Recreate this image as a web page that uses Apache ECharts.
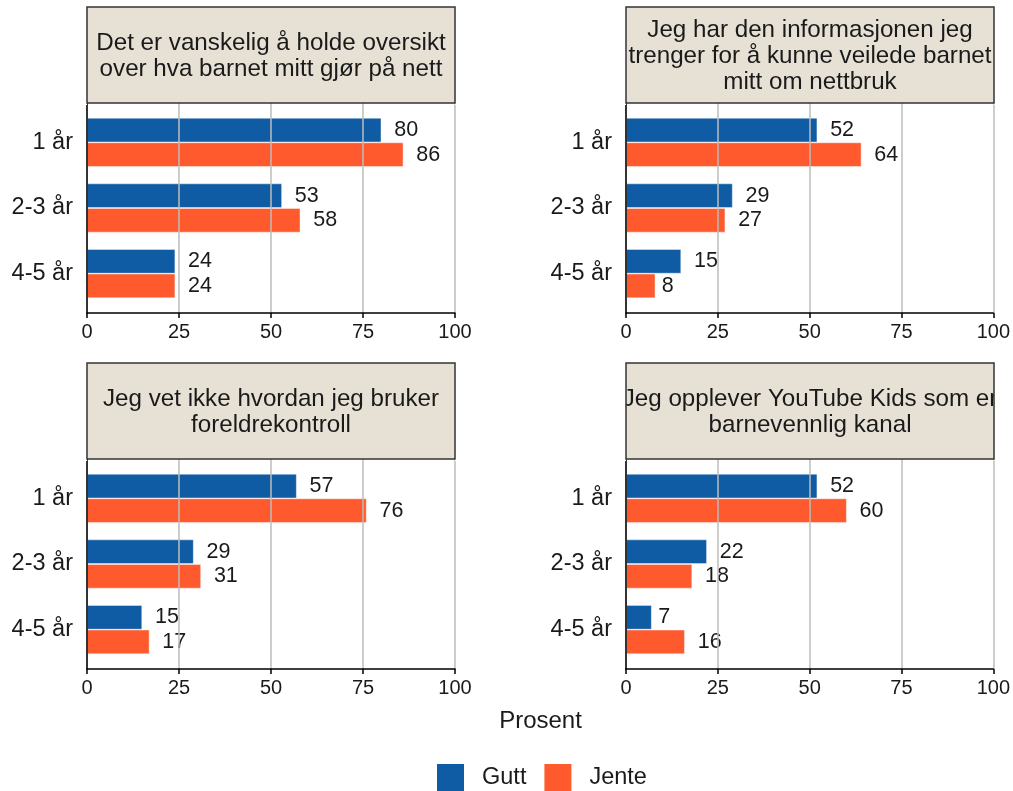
<!DOCTYPE html>
<html><head><meta charset="utf-8">
<script src="https://cdn.jsdelivr.net/npm/echarts@6/dist/echarts.min.js"></script>
<style>html,body{margin:0;padding:0;background:#fff}#c{width:1013px;height:791px}</style>
</head><body><div id="c"></div>
<script>
const categories = ['1 år', '2-3 år', '4-5 år'];
const panelTitles = [
  'Det er vanskelig å holde oversikt\nover hva barnet mitt gjør på nett',
  'Jeg har den informasjonen jeg\ntrenger for å kunne veilede barnet\nmitt om nettbruk',
  'Jeg vet ikke hvordan jeg bruker\nforeldrekontroll',
  'Jeg opplever YouTube Kids som er\nbarnevennlig kanal'
];
const seriesNames = ['Gutt', 'Jente'];
const guttValues = [[80, 53, 24], [52, 29, 15], [57, 29, 15], [52, 22, 7]];
const jenteValues = [[86, 58, 24], [64, 27, 8], [76, 31, 17], [60, 18, 16]];
const xAxisTitle = 'Prosent';

const FONT = '"Liberation Sans", Arial, sans-serif';
const COLORS = ['#0F5CA4', '#FF5A2E'];
const TXT = '#1a1a1a';

const panelLeft = [87, 626, 87, 626];
const stripTop = [7, 7, 363, 363];
const panelW = 368, stripH = 96, plotH = 210;
const pad = plotH * 0.1 / 3.2;

const grid = [], xAxis = [], yAxis = [], series = [], graphic = [];

for (let i = 0; i < 4; i++) {
  const L = panelLeft[i], ST = stripTop[i], PT = ST + stripH;
  grid.push({ left: L, top: PT, width: panelW, height: plotH });
  grid.push({ left: L, top: PT + pad, width: panelW, height: plotH - 2 * pad });
  const gB = 2 * i, gA = 2 * i + 1;
  xAxis.push({
    type: 'value', gridIndex: gB, min: 0, max: 100, interval: 25,
    axisLine: { show: true, onZero: false, lineStyle: { color: '#000', width: 1.5 } },
    axisTick: { show: true, length: 5, lineStyle: { color: '#000', width: 1.5 } },
    axisLabel: { fontSize: 20, fontFamily: FONT, color: TXT, margin: 9 },
    splitLine: { show: true, lineStyle: { color: '#BDBDBD', width: 1.5 } },
    z: 5
  });
  yAxis.push({
    type: 'value', gridIndex: gB, min: 0, max: 1,
    axisLine: { show: true, onZero: false, lineStyle: { color: '#000', width: 1.5 } },
    axisTick: { show: false }, axisLabel: { show: false }, splitLine: { show: false },
    z: 5
  });
  xAxis.push({ type: 'value', gridIndex: gA, min: 0, max: 100, show: false });
  yAxis.push({
    type: 'category', gridIndex: gA, data: categories, inverse: true,
    axisLine: { show: false }, axisTick: { show: false }, splitLine: { show: false },
    axisLabel: { fontSize: 23.5, fontFamily: FONT, color: TXT, margin: 14, padding: [4, 0, 0, 0] }
  });
  [guttValues[i], jenteValues[i]].forEach((vals, s) => {
    series.push({
      type: 'bar', name: seriesNames[s], xAxisIndex: gA, yAxisIndex: gA,
      barWidth: 24.6, barGap: '0%',
      itemStyle: { color: COLORS[s], borderColor: 'rgba(255,255,255,0.55)', borderWidth: 0.8 },
      label: { show: true, position: 'right', fontSize: 21.5, fontFamily: FONT, color: TXT, padding: [2, 0, 0, 0] },
      data: vals.map(v => ({ value: v, label: { distance: String(v).length * 6.4 } })),
      silent: true, animation: false
    });
  });
  graphic.push({ type: 'rect', z: 10, shape: { x: L, y: ST, width: panelW, height: stripH },
    style: { fill: '#E7E1D5' } });
  graphic.push({ type: 'text', z: 11, x: L + panelW / 2, y: ST + stripH / 2 + 1.5,
    style: { text: panelTitles[i], fontSize: 24.2, fontFamily: FONT, fill: TXT,
      align: 'center', verticalAlign: 'middle', lineHeight: 26 } });
  graphic.push({ type: 'rect', z: 12, shape: { x: L - 30, y: ST - 2, width: 30, height: stripH + 4 },
    style: { fill: '#fff' } });
  graphic.push({ type: 'rect', z: 12, shape: { x: L + panelW, y: ST - 2, width: 30, height: stripH + 4 },
    style: { fill: '#fff' } });
  graphic.push({ type: 'rect', z: 13, shape: { x: L, y: ST, width: panelW, height: stripH },
    style: { fill: null, stroke: '#333', lineWidth: 1.5 } });
}

graphic.push({ type: 'text', z: 11, x: 540.5, y: 721,
  style: { text: xAxisTitle, fontSize: 24, fontFamily: FONT, fill: TXT, align: 'center', verticalAlign: 'middle' } });

const chart = echarts.init(document.getElementById('c'), null, { renderer: 'canvas' });
chart.setOption({
  animation: false,
  backgroundColor: '#fff',
  grid, xAxis, yAxis, series, graphic,
  legend: {
    data: seriesNames, left: 437, top: 764, orient: 'horizontal', padding: 0,
    itemWidth: 27, itemHeight: 27, itemGap: 18, icon: 'rect', selectedMode: false,
    itemStyle: { borderWidth: 0 },
    textStyle: { fontSize: 23.5, fontFamily: FONT, color: TXT, padding: [0, 0, 0, 13] }
  }
});
</script></body></html>
